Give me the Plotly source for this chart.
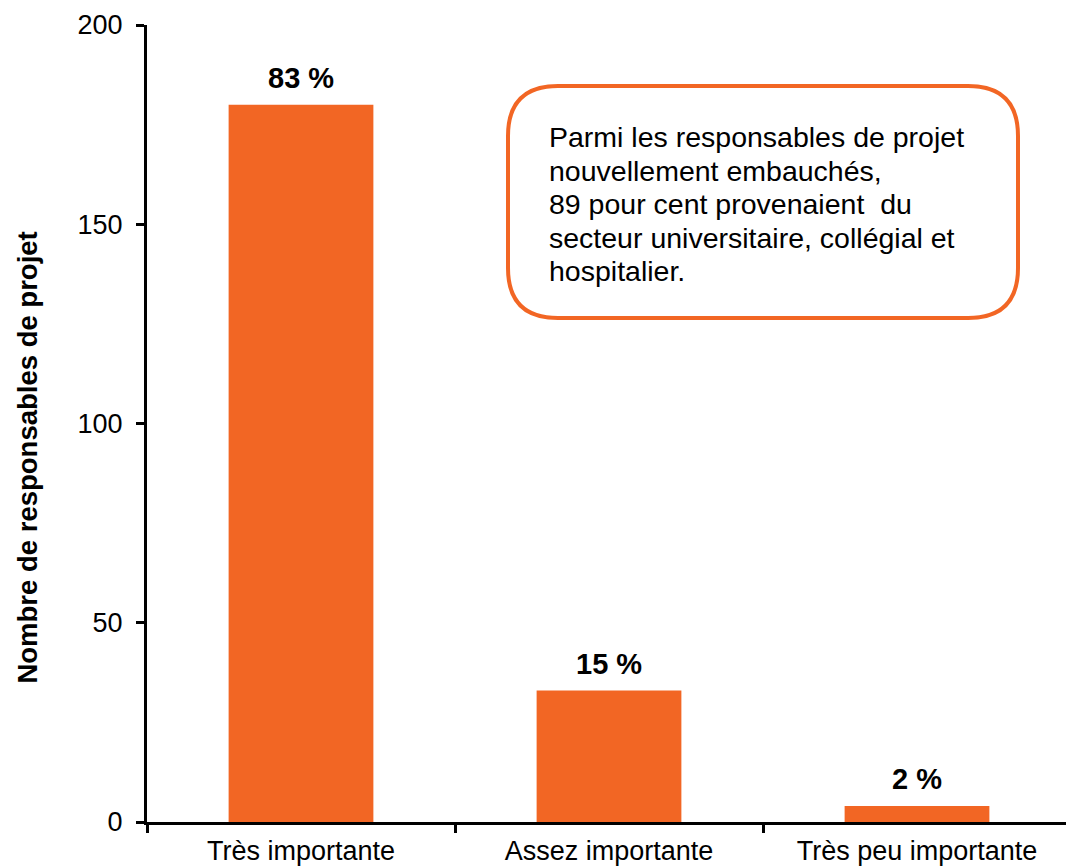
import plotly.graph_objects as go

categories = ["Très importante", "Assez importante", "Très peu importante"]
values = [180, 33, 4]
pct_labels = ["83 %", "15 %", "2 %"]
y_ticks = [0, 50, 100, 150, 200]
box_lines = [
    "Parmi les responsables de projet",
    "nouvellement embauchés,",
    "89 pour cent provenaient  du",
    "secteur universitaire, collégial et",
    "hospitalier.",
]
y_title = "Nombre de responsables de projet"

ORANGE = "#F26624"
FONT = "Liberation Sans, Arial, sans-serif"

fig = go.Figure()
fig.add_trace(go.Bar(x=categories, y=values, marker=dict(color=ORANGE, line=dict(width=0)),
                     width=0.47, hoverinfo="skip"))

annotations = []
for c, v, t in zip(categories, values, pct_labels):
    annotations.append(dict(x=c, y=v, xref="x", yref="y", text=f"<b>{t}</b>", showarrow=False,
                            yanchor="bottom", yshift=9, font=dict(family=FONT, size=29, color="black")))

# y-axis title
annotations.append(dict(x=-0.129, y=0.457, xref="paper", yref="paper", text=f"<b>{y_title}</b>",
                        textangle=-90, showarrow=False, xanchor="center", yanchor="middle",
                        font=dict(family=FONT, size=27.5, color="black")))

# text box lines
W, H = 924, 797
line_h = 33.5
first_y = 137
for i, ln in enumerate(box_lines):
    ypix = first_y + i * line_h
    annotations.append(dict(x=(547 - 147) / W, y=(822 - ypix) / H, xref="paper", yref="paper",
                            text=ln, showarrow=False, xanchor="left", yanchor="middle",
                            font=dict(family=FONT, size=28.5, color="black")))

# rounded rectangle
x0, x1 = (508 - 147) / W, (1018 - 147) / W
y1, y0 = (822 - 86) / H, (822 - 318) / H
rx, ry = 50 / W, 50 / H
path = (f"M {x0+rx},{y1} L {x1-rx},{y1} Q {x1},{y1} {x1},{y1-ry} "
        f"L {x1},{y0+ry} Q {x1},{y0} {x1-rx},{y0} L {x0+rx},{y0} "
        f"Q {x0},{y0} {x0},{y0+ry} L {x0},{y1-ry} Q {x0},{y1} {x0+rx},{y1} Z")

fig.update_layout(
    width=1066, height=859,
    margin=dict(l=139, r=3, t=17, b=45, autoexpand=False),
    paper_bgcolor="white", plot_bgcolor="white",
    showlegend=False,
    font=dict(family=FONT, size=27, color="black"),
    annotations=annotations,
    shapes=[dict(type="path", xref="paper", yref="paper", path=path,
                 line=dict(color=ORANGE, width=4), fillcolor="white", layer="above")],
    xaxis=dict(showline=True, linecolor="black", linewidth=3, ticks="outside", tickson="boundaries",
               ticklen=8, tickwidth=3, tickcolor="black", showgrid=False, zeroline=False,
               ticklabelstandoff=3, automargin=False,
               tickfont=dict(family=FONT, size=27, color="black"), range=[-0.5, 2.5]),
    yaxis=dict(range=[0, 200], tickvals=y_ticks, showline=True, linecolor="black", linewidth=3,
               ticks="outside", ticklen=8, tickwidth=3, tickcolor="black", showgrid=False,
               ticklabelstandoff=8, automargin=False,
               zeroline=False, tickfont=dict(family=FONT, size=27, color="black")),
)
fig.update_traces(cliponaxis=False)

fig.write_html("out.html")
